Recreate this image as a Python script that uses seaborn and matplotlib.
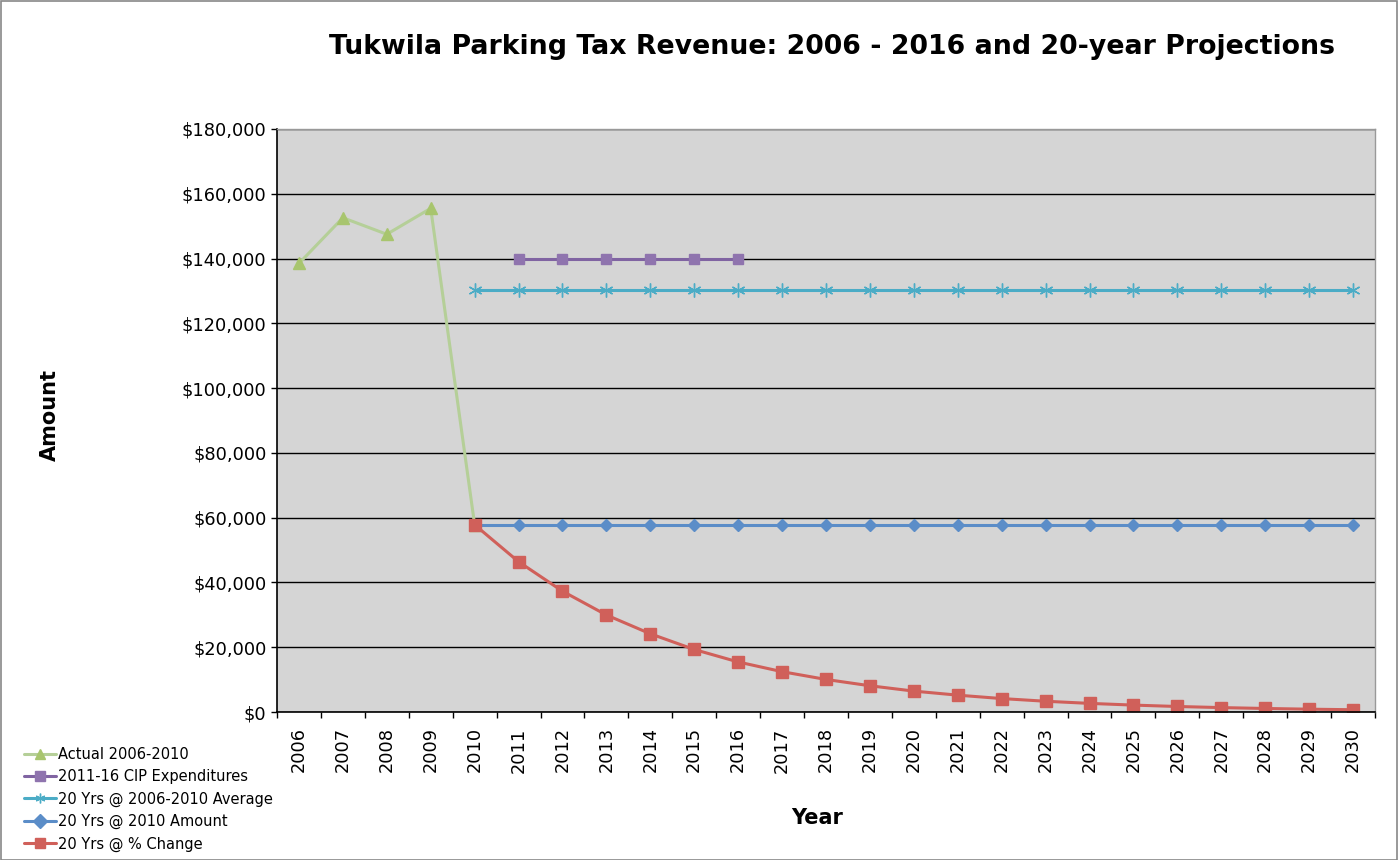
import matplotlib
matplotlib.use("Agg")
import matplotlib.pyplot as plt
import seaborn as sns
import pandas as pd
import numpy as np
from matplotlib.ticker import FuncFormatter, FixedLocator, MultipleLocator

years = list(range(2006, 2031))

actual_years = [2006, 2007, 2008, 2009, 2010]
actual_vals = [138500, 152600, 147500, 155500, 57800]

cip_years = [2011, 2012, 2013, 2014, 2015, 2016]
cip_vals = [140000, 140000, 140000, 140000, 140000, 140000]

avg_years = list(range(2010, 2031))
avg_vals = [130400] * 21

amt_years = list(range(2010, 2031))
amt_vals = [57800] * 21

pct_years = list(range(2010, 2031))
pct_vals = [57800, 46400, 37300, 29950, 24150, 19300, 15450, 12450, 10050, 8100,
            6450, 5200, 4150, 3320, 2660, 2130, 1700, 1360, 1090, 870, 700]

series = [
    ("Actual 2006-2010", actual_years, actual_vals, "#B5CF98", "#A8C56E", "^", 8.5),
    ("2011-16 CIP Expenditures", cip_years, cip_vals, "#8064A2", "#8F74AE", "s", 7.5),
    ("20 Yrs @ 2006-2010 Average", avg_years, avg_vals, "#4BACC6", "#4BACC6", (6, 2, 0), 10),
    ("20 Yrs @ 2010 Amount", amt_years, amt_vals, "#5B8DC8", "#5B8DC8", "D", 6),
    ("20 Yrs @ % Change", pct_years, pct_vals, "#D0605A", "#D0605A", "s", 8),
]

sns.set_style("white")
plt.rcParams['font.family'] = ['DejaVu Sans']
plt.rcParams['text.color'] = 'black'
plt.rcParams['axes.labelcolor'] = 'black'
plt.rcParams['xtick.color'] = 'black'
plt.rcParams['ytick.color'] = 'black'

fig = plt.figure(figsize=(13.98, 8.6), dpi=100)
ax = fig.add_axes([277/1398, 1-712/860, (1375-277)/1398, (712-129)/860])
ax.set_facecolor("#D5D5D5")

for name, xs, ys, col, mcol, mk, ms in series:
    df = pd.DataFrame({"Year": xs, "Amount": ys})
    sns.lineplot(data=df, x="Year", y="Amount", ax=ax, color=col, marker=mk,
                 markersize=ms, linewidth=2.2, markeredgecolor=mcol, markerfacecolor=mcol,
                 markeredgewidth=1.0, label=name, legend=False)

ax.set_xlim(2005.5, 2030.5)
ax.set_ylim(0, 180000)
ax.yaxis.set_major_locator(MultipleLocator(20000))
ax.yaxis.set_major_formatter(FuncFormatter(lambda v, p: f"${v:,.0f}"))
ax.grid(axis="y", color="black", linewidth=1.0)
ax.set_axisbelow(True)

ax.xaxis.set_major_locator(FixedLocator(years))
ax.set_xticklabels([str(y) for y in years], rotation=90)
ax.xaxis.set_minor_locator(FixedLocator([y - 0.5 for y in years] + [2030.5]))
ax.tick_params(axis="x", which="major", bottom=True, length=0, labelsize=12.8, pad=11)
ax.tick_params(axis="x", which="minor", bottom=True, length=4.5, width=1, color="black", direction="out")
ax.tick_params(axis="y", which="major", left=True, length=4.5, width=1, color="black",
               direction="out", labelsize=12.8, pad=3)

for s in ["left", "bottom"]:
    ax.spines[s].set_color("black")
    ax.spines[s].set_linewidth(1.2)
for s in ["top", "right"]:
    ax.spines[s].set_color("#999999")
    ax.spines[s].set_linewidth(1.0)

ax.set_xlabel("")
ax.set_ylabel("")
fig.text(817/1398, 1-818/860, "Year", fontsize=15, fontweight="bold", ha="center", va="center")
fig.text(50/1398, 1-415/860, "Amount", rotation=90, fontsize=15, fontweight="bold",
         ha="center", va="center")

fig.text(832/1398, 1-47/860, "Tukwila Parking Tax Revenue: 2006 - 2016 and 20-year Projections",
         fontsize=19.3, fontweight="bold", ha="center", va="center")

handles, labels = ax.get_legend_handles_labels()
leg = fig.legend(handles, labels, loc="upper left", bbox_to_anchor=(24/1398, 1-747/860),
                 frameon=False, fontsize=10.5, handlelength=2.2, handletextpad=0.1,
                 labelspacing=0.5, borderpad=0, borderaxespad=0)
for h in leg.legend_handles:
    h.set_markersize(7)

fig.patches.append(plt.Rectangle((0.5/1398, 0.5/860), 1 - 1.5/1398, 1 - 1.5/860,
                                 transform=fig.transFigure, fill=False,
                                 edgecolor="#888888", linewidth=1.2))

fig.savefig("out.png", dpi=100, facecolor="white")
